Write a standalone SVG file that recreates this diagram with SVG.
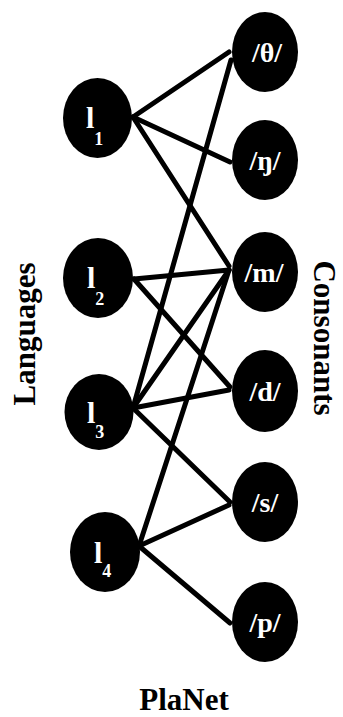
<svg xmlns="http://www.w3.org/2000/svg" width="343" height="717" viewBox="0 0 343 717">
<style>
.n{fill:#000}
.e{stroke:#000;stroke-width:5;stroke-linecap:round;fill:none}
text{font-family:'Liberation Serif','DejaVu Serif',serif;font-weight:700}
.lbl{fill:#fff}
.ll{font-size:30px}
.sub{font-size:18px}
.rl{font-size:28px;text-anchor:middle}
.title{fill:#000;font-size:31px}
</style>
<rect width="343" height="717" fill="#fff"/>
<g id="connectors">
<line class="e" x1="133" y1="117" x2="229" y2="52"/>
<line class="e" x1="133" y1="117" x2="230" y2="162"/>
<line class="e" x1="133" y1="117" x2="229" y2="266"/>
<line class="e" x1="134" y1="279" x2="229" y2="270"/>
<line class="e" x1="134" y1="279" x2="230" y2="387"/>
<line class="e" x1="133" y1="408" x2="231" y2="60"/>
<line class="e" x1="133" y1="408" x2="229" y2="270"/>
<line class="e" x1="133" y1="408" x2="229" y2="390"/>
<line class="e" x1="133" y1="408" x2="230" y2="502"/>
<line class="e" x1="139" y1="546" x2="229" y2="270"/>
<line class="e" x1="139" y1="546" x2="229" y2="505"/>
<line class="e" x1="139" y1="546" x2="230" y2="623"/>
</g>
<g id="l1"><ellipse class="n" cx="97.5" cy="118" rx="34.5" ry="40"/><text class="lbl ll" x="86" y="128">l<tspan class="sub" dy="17">1</tspan></text></g>
<g id="l2"><ellipse class="n" cx="98" cy="278" rx="35" ry="40"/><text class="lbl ll" x="87" y="288">l<tspan class="sub" dy="17">2</tspan></text></g>
<g id="l3"><ellipse class="n" cx="99" cy="412" rx="34.5" ry="38"/><text class="lbl ll" x="87" y="423">l<tspan class="sub" dy="15">3</tspan></text></g>
<g id="l4"><ellipse class="n" cx="105" cy="552" rx="35" ry="40"/><text class="lbl ll" x="94" y="563">l<tspan class="sub" dy="14">4</tspan></text></g>
<g id="theta"><ellipse class="n" cx="265" cy="52" rx="33" ry="40"/><text class="lbl rl" x="267" y="62">/θ/</text></g>
<g id="eng"><ellipse class="n" cx="265" cy="160" rx="33" ry="40"/><text class="lbl rl" x="265" y="170">/ŋ/</text></g>
<g id="m"><ellipse class="n" cx="265" cy="272" rx="33" ry="40"/><text class="lbl rl" x="264" y="282">/m/</text></g>
<g id="d"><ellipse class="n" cx="265" cy="391" rx="33" ry="41"/><text class="lbl rl" x="265" y="401">/d/</text></g>
<g id="s"><ellipse class="n" cx="265" cy="502" rx="33" ry="40"/><text class="lbl rl" x="265" y="512">/s/</text></g>
<g id="p"><ellipse class="n" cx="265" cy="622" rx="33" ry="40"/><text class="lbl rl" x="265" y="632">/p/</text></g>
<text class="title" transform="translate(35,334) rotate(-90)" text-anchor="middle">Languages</text>
<text class="title" transform="translate(314,338) rotate(90)" text-anchor="middle" font-size="29">Consonants</text>
<text class="title" x="184" y="710" text-anchor="middle">PlaNet</text>
</svg>
